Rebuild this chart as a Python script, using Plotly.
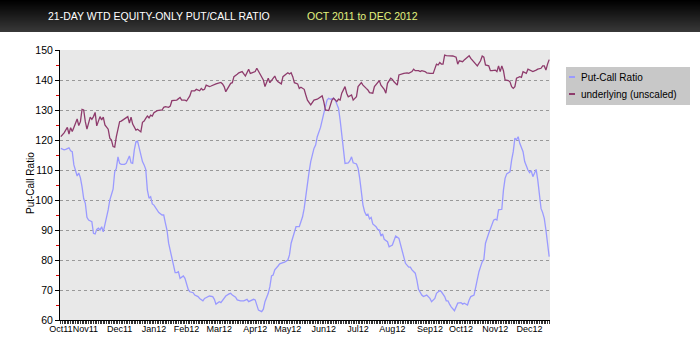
import pandas as pd
import plotly.graph_objects as go

# Trading calendar: Oct 11 2011 .. Dec 19 2012 (NYSE sessions)
holidays = ["2011-11-24", "2011-12-26", "2012-01-02", "2012-01-16", "2012-02-20",
            "2012-04-06", "2012-05-28", "2012-07-04", "2012-09-03", "2012-10-29",
            "2012-10-30", "2012-11-22"]
sessions = pd.bdate_range("2011-10-11", "2012-12-19")
sessions = sessions[~sessions.isin(pd.to_datetime(holidays))]

# 21-day weighted equity-only put/call ratio (session index, value x100)
pcr_idx = [0, 2, 3, 5, 6, 7, 8, 9, 10, 11, 12, 13, 14, 15, 16, 17, 19, 20, 21, 22,
           23, 24, 25, 26, 28, 29, 30, 32, 33, 34, 35, 36, 37, 39, 40, 42, 43, 44, 45, 46,
           47, 48, 50, 51, 52, 53, 54, 55, 56, 57, 59, 60, 62, 63, 64, 65, 66, 68, 69, 70,
           71, 72, 73, 75, 76, 77, 78, 79, 81, 82, 84, 85, 87, 88, 90, 91, 93, 94, 95, 97,
           98, 100, 101, 103, 104, 105, 107, 108, 110, 112, 113, 114, 115, 117, 118, 119, 120, 121, 123, 124,
           125, 127, 128, 129, 130, 131, 133, 134, 136, 137, 139, 140, 141, 143, 144, 146, 148, 149, 150, 152,
           153, 154, 155, 156, 157, 159, 160, 161, 163, 164, 165, 167, 168, 169, 170, 171, 172, 173, 174, 176,
           177, 178, 179, 181, 182, 183, 185, 186, 187, 188, 189, 190, 191, 193, 194, 195, 196, 197, 198, 200,
           201, 203, 204, 205, 207, 208, 209, 210, 211, 213, 214, 215, 217, 218, 219, 221, 222, 224, 226, 227,
           229, 230, 232, 233, 235, 236, 237, 238, 239, 241, 242, 243, 245, 246, 247, 249, 250, 251, 253, 254,
           256, 257, 258, 259, 260, 262, 263, 264, 265, 266, 267, 268, 270, 271, 272, 273, 275, 276, 277, 278,
           279, 280, 281, 283, 284, 286, 287, 288, 289, 290, 291, 292, 293, 294, 295, 296, 297, 298, 299]
pcr_val = [117.2, 116.7, 116.9, 117.4, 116.4, 116.1, 111.7, 110.0, 108.0, 109.0, 107.4, 104.4, 100.5, 98.9, 94.2, 93.3, 92.8, 88.9, 88.7, 90.2,
           90.6, 90.0, 91.1, 89.4, 93.9, 96.7, 100.0, 103.6, 109.4, 110.6, 114.4, 112.2, 111.9, 111.9, 112.2, 114.7, 112.4, 112.2, 116.7, 119.4,
           119.6, 117.2, 112.8, 111.7, 110.2, 103.3, 100.6, 101.1, 98.7, 98.3, 96.7, 95.8, 95.0, 95.0, 92.4, 90.0, 85.6, 81.1, 77.8, 75.8,
           75.8, 76.1, 73.9, 74.7, 73.9, 71.7, 70.2, 69.4, 69.1, 68.3, 67.8, 67.2, 66.4, 67.2, 67.8, 68.0, 67.8, 66.9, 65.3, 66.1,
           65.8, 67.2, 68.0, 68.7, 68.9, 68.3, 67.6, 66.7, 66.4, 66.4, 66.7, 66.9, 66.1, 66.7, 66.9, 66.7, 65.0, 63.3, 62.8, 63.6,
           66.1, 68.9, 71.1, 74.7, 75.0, 76.7, 78.0, 78.7, 79.1, 79.3, 80.0, 81.7, 85.6, 88.9, 91.1, 91.1, 94.4, 97.2, 101.7, 109.4,
           112.8, 115.0, 117.2, 118.3, 121.1, 124.2, 126.1, 128.9, 133.3, 133.9, 133.6, 133.9, 133.3, 131.7, 130.6, 126.7, 122.2, 116.1, 112.2, 112.4,
           113.1, 114.4, 112.4, 112.0, 110.6, 107.2, 98.3, 96.1, 95.0, 95.3, 93.7, 94.2, 92.0, 91.1, 90.2, 90.0, 88.0, 88.7, 86.9, 86.1,
           84.4, 85.0, 86.7, 88.0, 87.2, 85.0, 82.8, 80.6, 78.9, 77.6, 77.6, 76.7, 75.6, 73.3, 70.2, 68.3, 67.8, 68.3, 67.2, 66.1,
           67.2, 68.9, 69.8, 69.4, 67.8, 66.4, 66.4, 65.3, 64.4, 63.1, 64.4, 65.6, 65.8, 65.3, 65.6, 65.0, 66.7, 67.8, 68.3, 71.1,
           76.1, 77.8, 79.4, 80.2, 85.6, 88.9, 90.6, 91.7, 93.3, 93.6, 93.3, 96.7, 96.9, 103.3, 107.2, 108.7, 109.4, 113.3, 116.1, 120.6,
           120.1, 121.1, 118.9, 116.1, 112.8, 110.0, 109.1, 109.8, 107.8, 108.9, 110.2, 106.7, 101.7, 97.2, 95.8, 93.9, 90.0, 84.4, 81.1]

# Underlying index, unscaled (session index, value)
und_idx = [0, 2, 4, 5, 6, 7, 8, 10, 11, 12, 13, 14, 15, 16, 18, 19, 20, 21, 22, 24,
           25, 26, 27, 29, 30, 31, 32, 33, 34, 36, 37, 38, 40, 41, 42, 43, 44, 46, 47, 48,
           49, 50, 51, 52, 53, 54, 55, 56, 57, 59, 60, 62, 63, 64, 66, 67, 68, 70, 71, 73,
           74, 76, 77, 79, 80, 82, 83, 85, 86, 87, 88, 89, 91, 92, 93, 95, 96, 98, 99, 100,
           101, 102, 103, 104, 105, 106, 108, 109, 111, 112, 113, 115, 116, 117, 119, 120, 121, 122, 124, 125,
           126, 127, 128, 130, 131, 132, 133, 135, 136, 138, 139, 140, 141, 142, 143, 145, 146, 147, 149, 150,
           151, 153, 155, 157, 158, 160, 161, 162, 164, 165, 166, 167, 169, 170, 171, 172, 174, 175, 176, 178,
           179, 181, 182, 184, 185, 187, 188, 189, 191, 192, 194, 195, 196, 198, 199, 200, 202, 203, 204, 206,
           207, 209, 210, 212, 213, 215, 216, 217, 219, 220, 221, 223, 224, 226, 228, 230, 231, 232, 233, 234,
           235, 236, 238, 240, 242, 243, 244, 246, 247, 248, 250, 251, 253, 254, 255, 257, 258, 259, 260, 262,
           263, 264, 266, 267, 268, 269, 270, 271, 272, 274, 275, 276, 277, 278, 279, 281, 282, 283, 285, 286,
           288, 289, 291, 292, 294, 295, 296, 297, 298, 299]
und_val = [121.1, 122.4, 124.2, 122.0, 124.1, 122.8, 124.2, 127.0, 124.8, 126.1, 130.2, 130.0, 126.1, 123.6, 127.6, 126.9, 127.8, 129.2, 124.7, 127.8,
           126.7, 127.6, 125.0, 123.6, 120.6, 120.0, 117.8, 117.6, 121.1, 126.1, 126.3, 126.7, 127.6, 127.8, 125.6, 127.6, 125.3, 123.3, 123.6, 123.1,
           122.7, 125.9, 126.3, 127.2, 128.0, 127.4, 128.3, 128.0, 129.1, 129.8, 129.8, 130.0, 130.9, 131.1, 130.9, 131.3, 133.1, 133.3, 133.3, 134.2,
           133.3, 133.3, 133.0, 134.7, 136.4, 136.4, 136.9, 136.4, 137.2, 136.7, 136.9, 138.3, 137.8, 138.0, 138.3, 138.7, 138.9, 139.2, 138.7, 137.8,
           136.1, 137.2, 138.3, 138.9, 139.1, 141.1, 141.9, 142.4, 142.8, 142.2, 141.3, 143.6, 142.2, 142.4, 142.8, 143.9, 142.8, 141.7, 140.0, 137.8,
           139.4, 140.6, 139.1, 140.4, 141.3, 140.0, 139.4, 138.7, 141.1, 142.0, 142.4, 142.0, 142.4, 141.1, 139.1, 138.7, 137.2, 137.6, 136.9, 135.0,
           133.3, 131.7, 133.3, 133.6, 133.9, 134.7, 132.8, 130.0, 129.8, 132.0, 133.3, 133.9, 132.8, 133.6, 133.3, 135.6, 137.8, 135.6, 134.4, 135.0,
           133.3, 134.4, 137.8, 139.1, 138.3, 137.2, 136.7, 135.8, 135.6, 137.8, 138.9, 139.8, 138.3, 136.9, 135.6, 138.9, 140.6, 140.2, 139.4, 138.3,
           141.7, 142.2, 142.2, 142.4, 142.2, 142.8, 143.6, 143.1, 143.1, 142.8, 143.1, 142.8, 142.4, 142.2, 142.2, 145.3, 145.0, 145.8, 145.3, 145.3,
           148.3, 148.1, 148.0, 148.0, 147.6, 145.3, 146.4, 146.1, 146.7, 147.2, 148.1, 147.2, 146.1, 145.3, 144.7, 146.4, 148.0, 147.6, 145.0, 144.7,
           143.1, 143.1, 143.3, 142.8, 144.7, 142.8, 144.7, 143.1, 140.0, 139.8, 139.4, 137.8, 137.2, 137.8, 140.6, 141.1, 140.9, 142.8, 142.2, 143.6,
           143.1, 142.8, 143.3, 143.6, 143.9, 144.7, 144.7, 143.3, 145.3, 146.8]

pcr_dates = [sessions[i].strftime("%Y-%m-%d") for i in pcr_idx]
und_dates = [sessions[i].strftime("%Y-%m-%d") for i in und_idx]

# Month labels at the first session of each month
month_first = pd.Series(range(len(sessions)), index=sessions)
month_first = month_first.groupby([sessions.year, sessions.month]).min()
tick_vals = [int(v) for v in month_first.values]
tick_text = [sessions[i].strftime("%b%y") for i in tick_vals]

BLUE = "#9a9aff"
PURPLE = "#8e3b6c"
FONT = "Liberation Sans, Arial, sans-serif"

W, H = 700, 350
ML, MR, MT, MB = 60, 150, 50, 30
PW, PH = W - ML - MR, H - MT - MB


def px_x(px):
    return (px - ML) / PW


def px_y(py):
    return (H - MB - py) / PH


fig = go.Figure()
fig.add_trace(go.Scatter(x=pcr_idx, y=pcr_val, mode="lines", name="Put-Call Ratio",
                         customdata=pcr_dates, hovertemplate="%{customdata}: %{y:.1f}<extra></extra>",
                         line=dict(color=BLUE, width=1.3)))
fig.add_trace(go.Scatter(x=und_idx, y=und_val, mode="lines", name="underlying (unscaled)",
                         customdata=und_dates, hovertemplate="%{customdata}: %{y:.1f}<extra></extra>",
                         line=dict(color=PURPLE, width=1.3)))

shapes = []
# dark header band with a vertical gradient
n_strip = 32
for k in range(n_strip):
    g = int(round(56 * k / (n_strip - 1)))
    shapes.append(dict(type="rect", xref="paper", yref="paper",
                       x0=px_x(0), x1=px_x(W), y0=px_y(k + 1), y1=px_y(k),
                       fillcolor=f"rgb({g},{g},{g})", line=dict(width=0), layer="above"))

# legend box
shapes.append(dict(type="rect", xref="paper", yref="paper",
                   x0=px_x(566), x1=px_x(690), y0=px_y(105), y1=px_y(67),
                   fillcolor="#c8c8c8", line=dict(width=0)))
for yy, col in ((77, BLUE), (94, PURPLE)):
    shapes.append(dict(type="line", xref="paper", yref="paper",
                       x0=px_x(569), x1=px_x(575), y0=px_y(yy), y1=px_y(yy),
                       line=dict(color=col, width=2)))

annotations = [
    dict(text="21-DAY WTD EQUITY-ONLY PUT/CALL RATIO", xref="paper", yref="paper",
         x=px_x(46), y=px_y(16), xanchor="left", yanchor="middle", showarrow=False,
         font=dict(family=FONT, size=10.5, color="#ffffff")),
    dict(text="OCT 2011 to DEC 2012", xref="paper", yref="paper",
         x=px_x(305), y=px_y(16), xanchor="left", yanchor="middle", showarrow=False,
         font=dict(family=FONT, size=10.5, color="#e2f27e")),
    dict(text="Put-Call Ratio", xref="paper", yref="paper",
         x=px_x(579), y=px_y(77), xanchor="left", yanchor="middle", showarrow=False,
         font=dict(family=FONT, size=10, color="#000000")),
    dict(text="underlying (unscaled)", xref="paper", yref="paper",
         x=px_x(579), y=px_y(94), xanchor="left", yanchor="middle", showarrow=False,
         font=dict(family=FONT, size=10, color="#000000")),
    dict(text="Put-Call Ratio", xref="paper", yref="paper", textangle=-90,
         x=px_x(30), y=px_y(183), xanchor="center", yanchor="middle", showarrow=False,
         font=dict(family=FONT, size=10, color="#000000")),
]

fig.update_layout(
    width=W, height=H,
    margin=dict(l=ML, r=MR, t=MT, b=MB, pad=0),
    paper_bgcolor="#ffffff",
    plot_bgcolor="#e8e8e8",
    showlegend=False,
    shapes=shapes,
    annotations=annotations,
    font=dict(family=FONT, size=10, color="#000000"),
)
fig.update_xaxes(
    range=[-0.5, len(sessions) - 0.5], automargin=False,
    tickmode="array", tickvals=tick_vals, ticktext=tick_text, tickangle=0,
    ticks="", showgrid=False, zeroline=False,
    showline=True, linecolor="#000000", linewidth=1,
    tickfont=dict(family=FONT, size=9, color="#000000"),
    minor=dict(dtick=1, tick0=0, ticks="outside", ticklen=3, tickcolor="#333333", tickwidth=1, showgrid=False),
)
fig.update_yaxes(
    range=[60, 150], dtick=10, tick0=60, automargin=False,
    ticks="outside", ticklen=4, tickcolor="#000000",
    showline=True, linecolor="#000000", linewidth=1,
    showgrid=True, gridcolor="#999999", griddash="dot", gridwidth=1,
    zeroline=False,
    tickfont=dict(family=FONT, size=10.5, color="#000000"),
    minor=dict(dtick=5, tick0=60, ticks="outside", ticklen=3, tickcolor="#dd0000", tickwidth=1, showgrid=False),
)

fig.write_html("out.html")
